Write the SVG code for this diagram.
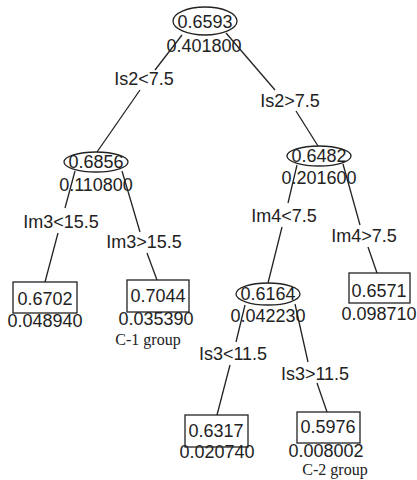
<svg xmlns="http://www.w3.org/2000/svg" width="417" height="480" viewBox="0 0 417 480">
<style>
.bg{fill:#fff}
.n{fill:none;stroke:#222;stroke-width:1.3}
.t{font-family:"Liberation Sans",Arial,sans-serif;font-size:18px;fill:#222;text-anchor:middle}
.s{font-family:"Liberation Serif","Times New Roman",serif;font-size:16px;fill:#222;text-anchor:middle}
#edges line{stroke:#222;stroke-width:1.3}
</style>
<rect class="bg" x="0" y="0" width="417" height="480"/>
<g id="edges">
<line x1="182" y1="35" x2="155" y2="70"/>
<line x1="140" y1="90" x2="97" y2="152"/>
<line x1="226" y1="33" x2="275" y2="90"/>
<line x1="296" y1="111" x2="318" y2="146"/>
<line x1="75" y1="171" x2="65" y2="208"/>
<line x1="122" y1="171" x2="140" y2="232"/>
<line x1="58" y1="233" x2="45" y2="282"/>
<line x1="147" y1="253" x2="157" y2="280"/>
<line x1="297" y1="165" x2="288" y2="203"/>
<line x1="343" y1="164" x2="360" y2="225"/>
<line x1="282" y1="227" x2="268" y2="283"/>
<line x1="368" y1="247" x2="377" y2="273"/>
<line x1="245" y1="305" x2="236" y2="342"/>
<line x1="295" y1="304" x2="308" y2="362"/>
<line x1="230" y1="365" x2="217" y2="415"/>
<line x1="317" y1="383" x2="327" y2="412"/>
</g>
<g id="labels">
<text class="t" x="144" y="85">Is2&lt;7.5</text>
<text class="t" x="290" y="107">Is2&gt;7.5</text>
<text class="t" x="61" y="228">Im3&lt;15.5</text>
<text class="t" x="144" y="248">Im3&gt;15.5</text>
<text class="t" x="284" y="222">Im4&lt;7.5</text>
<text class="t" x="364" y="242">Im4&gt;7.5</text>
<text class="t" x="233" y="360">Is3&lt;11.5</text>
<text class="t" x="315" y="380">Is3&gt;11.5</text>
</g>
<g id="n-root">
<ellipse class="n" cx="205" cy="21" rx="32" ry="14"/>
<text class="t" x="205" y="28">0.6593</text>
<text class="t" x="204" y="52">0.401800</text>
</g>
<g id="n-left">
<ellipse class="n" cx="96" cy="162" rx="32" ry="10"/>
<text class="t" x="96" y="168">0.6856</text>
<text class="t" x="96" y="191">0.110800</text>
</g>
<g id="n-right">
<ellipse class="n" cx="319" cy="156" rx="32" ry="10"/>
<text class="t" x="319" y="162">0.6482</text>
<text class="t" x="319" y="184">0.201600</text>
</g>
<g id="n-mid">
<ellipse class="n" cx="268" cy="294" rx="32" ry="11"/>
<text class="t" x="268" y="300">0.6164</text>
<text class="t" x="268" y="322">0.042230</text>
</g>
<g id="leaf1">
<rect class="n" x="13" y="282" width="64" height="31"/>
<text class="t" x="45" y="305">0.6702</text>
<text class="t" x="45" y="327">0.048940</text>
</g>
<g id="leaf2">
<rect class="n" x="127" y="280" width="62" height="32"/>
<text class="t" x="158" y="302">0.7044</text>
<text class="t" x="156" y="325">0.035390</text>
<text class="s" x="148" y="345">C-1 group</text>
</g>
<g id="leaf3">
<rect class="n" x="349" y="273" width="61" height="30"/>
<text class="t" x="379" y="297">0.6571</text>
<text class="t" x="379" y="320">0.098710</text>
</g>
<g id="leaf4">
<rect class="n" x="185" y="415" width="63" height="32"/>
<text class="t" x="216" y="437">0.6317</text>
<text class="t" x="217" y="458">0.020740</text>
</g>
<g id="leaf5">
<rect class="n" x="297" y="412" width="63" height="31"/>
<text class="t" x="328" y="433">0.5976</text>
<text class="t" x="326" y="457">0.008002</text>
<text class="s" x="335" y="475">C-2 group</text>
</g>
</svg>
